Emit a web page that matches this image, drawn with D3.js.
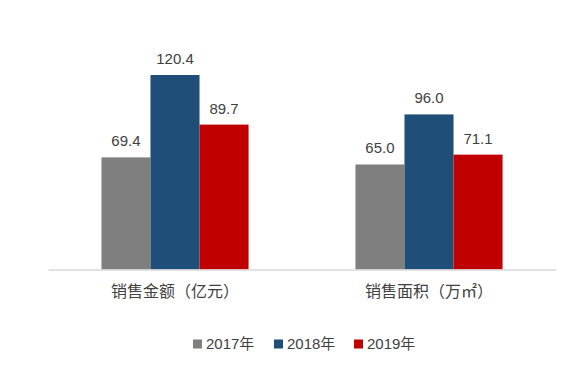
<!DOCTYPE html>
<html>
<head>
<meta charset="utf-8">
<script src="https://cdn.jsdelivr.net/npm/d3@7"></script>
<style>
  html, body { margin: 0; padding: 0; background: #fff; }
  svg text { font-family: "Liberation Sans", "Noto Sans CJK SC", sans-serif; fill: #404040; }
</style>
</head>
<body>
<div id="chart"></div>
<script>
const categories = ['销售金额（亿元）', '销售面积（万㎡）'];
const seriesNames = ['2017年', '2018年', '2019年'];
const values2017 = [69.4, 65.0];
const values2018 = [120.4, 96.0];
const values2019 = [89.7, 71.1];
const colors = ['#7f7f7f', '#1f4e79', '#c00000'];

const W = 583, H = 368;
const baseY = 269.5;

const svg = d3.select('#chart').append('svg').attr('width', W).attr('height', H);

const x = d3.scaleBand().domain(categories).range([48, 556]).paddingInner(0).paddingOuter(0);
const sub = d3.scaleBand().domain(seriesNames).range([0, x.bandwidth()]).paddingInner(0).paddingOuter(1.09);
const y = d3.scaleLinear().domain([0, 120.4]).range([baseY, 75]);

const series = seriesNames.map((name, i) => ({
  name, color: colors[i], values: [values2017, values2018, values2019][i]
}));

const g = svg.append('g');
series.forEach(s => {
  g.selectAll(null).data(s.values).enter().append('rect')
    .attr('x', (_, j) => x(categories[j]) + sub(s.name))
    .attr('width', sub.bandwidth())
    .attr('y', d => y(d))
    .attr('height', d => baseY - y(d))
    .attr('fill', s.color);
  g.selectAll(null).data(s.values).enter().append('text')
    .attr('x', (_, j) => x(categories[j]) + sub(s.name) + sub.bandwidth() / 2)
    .attr('y', d => y(d) - 11)
    .attr('text-anchor', 'middle')
    .attr('font-size', '15px')
    .text(d => d.toFixed(1));
});

// axis
const axis = svg.append('g').attr('transform', `translate(0,${baseY})`)
  .call(d3.axisBottom(x).tickSize(0).tickPadding(16));
axis.select('.domain').attr('stroke', '#d9d9d9').attr('stroke-width', 1.5);
axis.selectAll('text').attr('font-size', '16px').attr('fill', '#404040')
  .style('font-family', '"Noto Sans CJK SC", sans-serif');

// legend
const legendX = [193, 274, 354];
const legend = svg.append('g');
series.forEach((s, i) => {
  const lg = legend.append('g').attr('transform', `translate(${legendX[i]},344)`);
  lg.append('rect').attr('x', 0).attr('y', -4.5).attr('width', 9).attr('height', 9).attr('fill', s.color);
  lg.append('text').attr('x', 13).attr('y', 0).attr('dy', '0.35em')
    .attr('font-size', '15px').text(s.name);
});
</script>
</body>
</html>
